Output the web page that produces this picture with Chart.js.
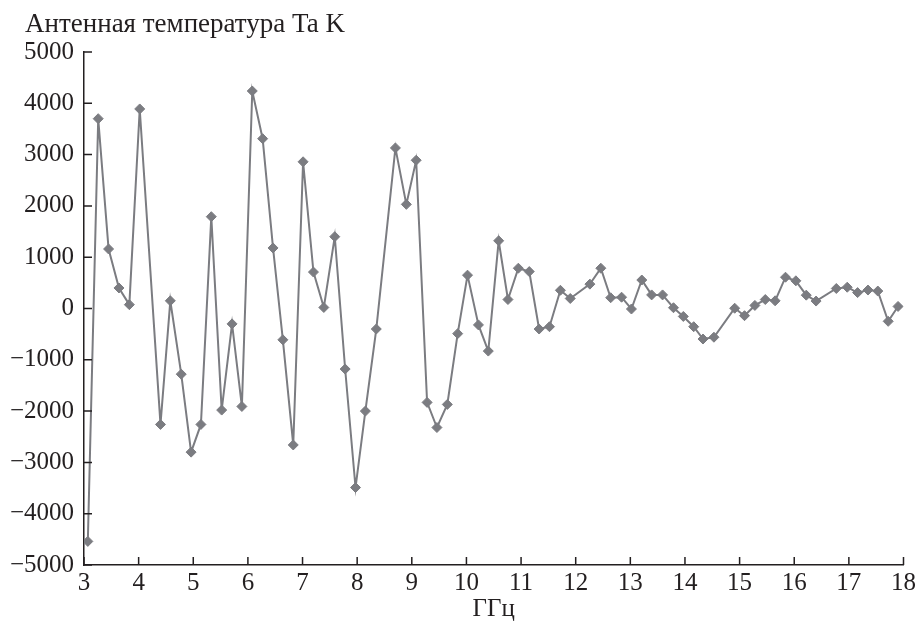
<!DOCTYPE html>
<html>
<head>
<meta charset="utf-8">
<script src="https://cdn.jsdelivr.net/npm/chart.js@4/dist/chart.umd.min.js"></script>
<style>
  html, body { margin: 0; padding: 0; background: #fff; }
  #wrap { position: relative; width: 919px; height: 622px; }
</style>
</head>
<body>
<div id="wrap"><canvas id="c" width="919" height="622"></canvas></div>
<script>
// Frequency, GHz
const freqs = [3.07, 3.26, 3.45, 3.64, 3.83, 4.02, 4.40, 4.58, 4.78, 4.96,
  5.14, 5.33, 5.52, 5.71, 5.89, 6.08, 6.27, 6.46, 6.64, 6.83,
  7.01, 7.20, 7.39, 7.59, 7.78, 7.97, 8.15, 8.35, 8.70, 8.90,
  9.08, 9.28, 9.46, 9.65, 9.84, 10.02, 10.22, 10.40, 10.59, 10.76,
  10.95, 11.15, 11.33, 11.52, 11.72, 11.90, 12.26, 12.46, 12.64, 12.84,
  13.02, 13.21, 13.39, 13.59, 13.79, 13.97, 14.16, 14.33, 14.53, 14.91,
  15.09, 15.28, 15.47, 15.65, 15.84, 16.03, 16.22, 16.40, 16.77, 16.97,
  17.16, 17.35, 17.53, 17.72, 17.90];
// Antenna temperature Ta, K
const temps = [-4540, 3700, 1160, 400, 75, 3890, -2260, 150, -1280, -2800,
  -2260, 1790, -1980, -300, -1910, 4240, 3310, 1180, -610, -2660,
  2860, 710, 20, 1400, -1180, -3490, -2000, -400, 3130, 2030,
  2890, -1830, -2320, -1870, -490, 650, -320, -830, 1320, 175,
  785, 720, -400, -355, 355, 195, 475, 785, 210, 220,
  -10, 555, 265, 265, 15, -155, -355, -595, -560, 5,
  -140, 60, 175, 150, 610, 540, 260, 145, 390, 415,
  310, 360, 340, -250, 40];
const xTicks = [3, 4, 5, 6, 7, 8, 9, 10, 11, 12, 13, 14, 15, 16, 17, 18];
const yTicks = [-5000, -4000, -3000, -2000, -1000, 0, 1000, 2000, 3000, 4000, 5000];
const yTitle = 'Антенная температура Ta K';
const xTitle = 'ГГц';

const FONT = '"Liberation Serif", "DejaVu Serif", serif';
const INK = '#231f20';
const GRAY = '#7b7c81';

const points = freqs.map((f, i) => ({ x: f, y: temps[i] }));

const innerTicks = {
  id: 'innerTicks',
  afterDraw(chart) {
    const { ctx, chartArea, scales } = chart;
    ctx.save();
    ctx.strokeStyle = INK;
    ctx.lineWidth = 1.5;
    ctx.beginPath();
    xTicks.forEach(v => {
      const px = scales.x.getPixelForValue(v);
      ctx.moveTo(px, chartArea.bottom);
      ctx.lineTo(px, chartArea.bottom - 8);
    });
    yTicks.forEach(v => {
      const py = scales.y.getPixelForValue(v);
      ctx.moveTo(chartArea.left, py);
      ctx.lineTo(chartArea.left + 8, py);
    });
    ctx.stroke();
    // y-axis title (top-left)
    ctx.fillStyle = INK;
    ctx.font = '27px ' + FONT;
    ctx.textBaseline = 'alphabetic';
    ctx.textAlign = 'left';
    ctx.fillText(yTitle, 25, 32);
    ctx.restore();
  }
};

new Chart(document.getElementById('c'), {
  type: 'line',
  data: {
    datasets: [{
      data: points,
      borderColor: GRAY,
      backgroundColor: GRAY,
      borderWidth: 2,
      pointStyle: 'rectRot',
      pointRadius: 5,
      pointBorderWidth: 1,
      pointBackgroundColor: GRAY,
      pointBorderColor: GRAY,
      tension: 0,
      fill: false
    }]
  },
  options: {
    responsive: false,
    animation: false,
    devicePixelRatio: 1,
    layout: { padding: { left: 0, right: 13, top: 52, bottom: 0 } },
    plugins: { legend: { display: false }, tooltip: { enabled: false }, title: { display: false } },
    scales: {
      x: {
        type: 'linear',
        min: 3, max: 18,
        afterBuildTicks: s => { s.ticks = xTicks.map(v => ({ value: v })); },
        afterFit: s => { s.height = 57; },
        grid: { display: false, drawTicks: false },
        border: { display: true, color: INK, width: 1.5 },
        ticks: { color: INK, font: { family: FONT, size: 25 }, padding: 3, maxRotation: 0, autoSkip: false },
        title: { display: true, text: xTitle, color: INK, font: { family: FONT, size: 25, lineHeight: 1 }, padding: { top: 0, bottom: 0 } }
      },
      y: {
        min: -5000, max: 5000,
        afterBuildTicks: s => { s.ticks = yTicks.map(v => ({ value: v })); },
        afterFit: s => { s.width = 84; },
        grid: { display: false, drawTicks: false },
        border: { display: true, color: INK, width: 1.5 },
        ticks: { color: INK, font: { family: FONT, size: 25 }, padding: 10, autoSkip: false,
          callback: v => (v < 0 ? '\u2212' + Math.abs(v) : String(v)) }
      }
    }
  },
  plugins: [innerTicks]
});
</script>
</body>
</html>
